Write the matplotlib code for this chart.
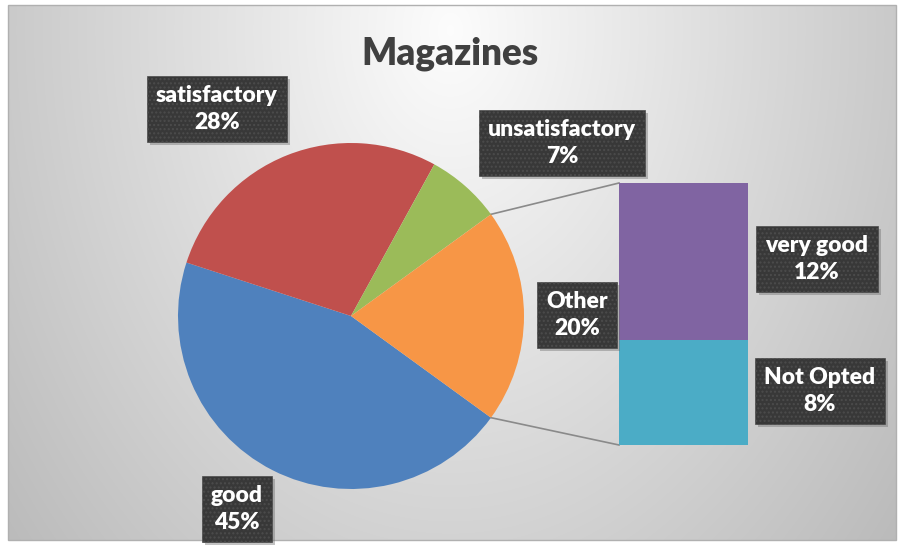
import numpy as np
import matplotlib.pyplot as plt
from matplotlib.patches import Rectangle

# data
pie_labels = ['good', 'satisfactory', 'unsatisfactory', 'Other']
pie_values = [45, 28, 7, 20]
pie_colors = ['#4F81BD', '#C0504D', '#9BBB59', '#F79646']

bar_labels = ['Not Opted', 'very good']
bar_values = [8, 12]
bar_colors = ['#4BACC6', '#8064A2']

W, H = 901, 545
plt.rcParams['font.family'] = ['Lato', 'DejaVu Sans']

fig = plt.figure(figsize=(W / 100, H / 100), dpi=100)
ax = fig.add_axes([0, 0, 1, 1])

# gradient panel (pixel coords, y up)
px0, px1, py0, py1 = 8, 896, 5, 540   # in image coords (y down)
yy, xx = np.mgrid[py0:py1, px0:px1]
d = np.sqrt(((xx - 450) / 470.0) ** 2 + ((yy - 30) / 650.0) ** 2)
g = np.clip(0.99 - 0.21 * d, 0, 1)
ax.imshow(np.dstack([g, g, g]), extent=(px0, px1, H - py1, H - py0),
          origin='upper', zorder=0, interpolation='bilinear')
ax.add_patch(Rectangle((px0, H - py1), px1 - px0, py1 - py0, fill=False,
                       ec='#b0b0b0', lw=1, zorder=1))

# pie
cx, cy, r = 351, H - 316, 173
ax.pie(pie_values, colors=pie_colors, startangle=-36, counterclock=False,
       center=(cx, cy), radius=r, wedgeprops=dict(linewidth=0, zorder=2))

# bar of the "Other" slice
bx0, bx1 = 619, 748
by0, by1 = H - 445, H - 183
scale = (by1 - by0) / sum(bar_values)
bottoms = by0 + np.cumsum([0] + bar_values[:-1]) * scale
ax.bar((bx0 + bx1) / 2, np.array(bar_values) * scale, width=bx1 - bx0,
       bottom=bottoms, color=bar_colors, zorder=2)

# connector lines
half = np.radians(pie_values[-1] / sum(pie_values) * 180)
ax.plot([cx + r * np.cos(half), bx0], [cy + r * np.sin(half), by1],
        color='#8a8a8a', lw=1.2, zorder=1.5)
ax.plot([cx + r * np.cos(half), bx0], [cy - r * np.sin(half), by0],
        color='#8a8a8a', lw=1.2, zorder=1.5)

ax.set_xlim(0, W)
ax.set_ylim(0, H)
ax.set_aspect('auto')
ax.axis('off')

# labels
label_pos = {
    'good': (237, 509),
    'satisfactory': (217, 109),
    'unsatisfactory': (562, 143),
    'Other': (577, 315),
    'Not Opted': (820, 391),
    'very good': (817, 259),
}
texts = []
all_labels = list(zip(pie_labels, pie_values)) + list(zip(bar_labels, bar_values))
for name, val in all_labels:
    x, y = label_pos[name]
    t = ax.text(x, H - y, f'{name}\n{val}%', ha='center', va='center',
                fontsize=16.5, fontweight='heavy', color='white',
                linespacing=1.3, zorder=4,
                bbox=dict(boxstyle='square,pad=0.4', fc='#383838',
                          ec='#4c4c4c', lw=0.5, hatch='....'))
    texts.append(t)

ax.text(450, H - 54, 'Magazines', ha='center', va='center', fontsize=26.5,
        fontweight='heavy', color='#404040', zorder=4)

# drop shadows behind the label boxes
fig.canvas.draw()
for t in texts:
    bb = t.get_bbox_patch().get_window_extent()
    ax.add_patch(Rectangle((bb.x0 + 3, bb.y0 - 3), bb.width, bb.height,
                           fc='#6a6a6a', ec='none', alpha=0.4, zorder=3))

fig.savefig('out.png', dpi=100, facecolor='white')
